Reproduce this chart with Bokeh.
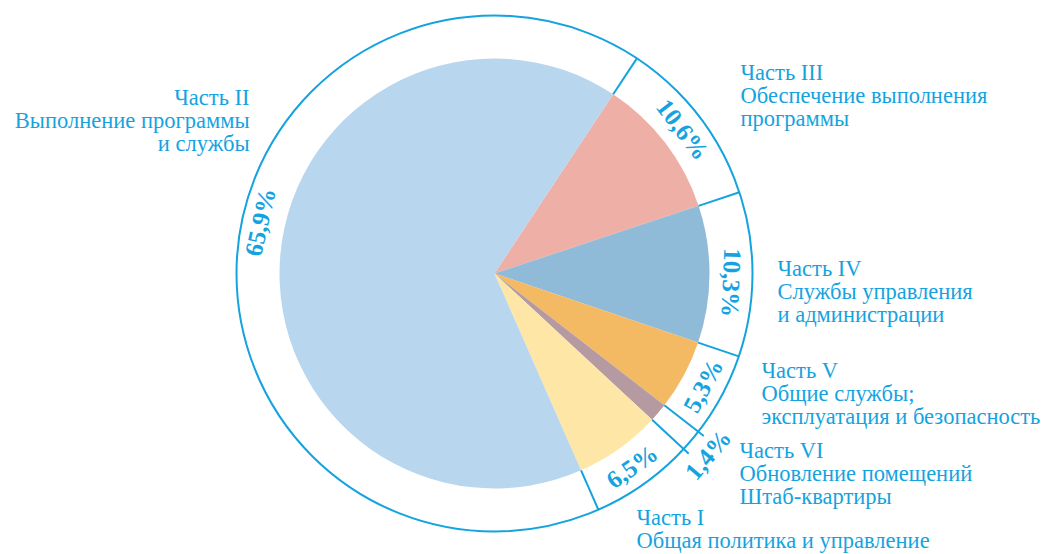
import math
from bokeh.plotting import figure
from bokeh.models import Range1d, ColumnDataSource
from bokeh.core.properties import value
from bokeh.embed import file_html
from bokeh.resources import INLINE

# ---- data (clockwise from the top-right boundary) ----
parts = ["Часть III", "Часть IV", "Часть V", "Часть VI", "Часть I", "Часть II"]
shares = [10.6, 10.3, 5.3, 1.4, 6.5, 65.9]
pct_labels = ["10,6%", "10,3%", "5,3%", "1,4%", "6,5%", "65,9%"]
descriptions = [
    ["Обеспечение выполнения", "программы"],
    ["Службы управления", "и администрации"],
    ["Общие службы;", "эксплуатация и безопасность"],
    ["Обновление помещений", "Штаб-квартиры"],
    ["Общая политика и управление"],
    ["Выполнение программы", "и службы"],
]
colors = ["#EDAFA6", "#8FBAD8", "#F4B963", "#B59BA1", "#FEE6A6", "#B9D6EF"]

BLUE = "#14A3DF"
W, H = 1048, 554
cx, cy = 494, H - 273
R_PIE, R_RING = 215, 258
START = 56.5  # degrees, top boundary of first slice

p = figure(width=W, height=H, output_backend="svg", toolbar_location=None,
           x_range=Range1d(0, W), y_range=Range1d(0, H),
           min_border=0, border_fill_color="white")
p.axis.visible = False
p.grid.visible = False
p.outline_line_color = None

# angles
his, los, mids = [], [], []
a = START
for s in shares:
    hi = a
    lo = a - s * 3.6
    his.append(math.radians(hi))
    los.append(math.radians(lo))
    mids.append((hi + lo) / 2)
    a = lo

src = ColumnDataSource(dict(lo=los, hi=his, color=colors))
p.wedge(x=cx, y=cy, radius=R_PIE, start_angle="lo", end_angle="hi",
        fill_color="color", line_color=None, source=src)

# outer ring
p.circle(x=[cx], y=[cy], radius=R_RING, fill_color=None, line_color=BLUE, line_width=2)

# dividers
bounds = [START] + [math.degrees(v) for v in los[:-1]]
x0s, y0s, x1s, y1s = [], [], [], []
for i, b in enumerate(bounds):
    r_out = R_RING + (7 if i in (3, 4) else 0)
    t = math.radians(b)
    x0s.append(cx + R_PIE * math.cos(t)); y0s.append(cy + R_PIE * math.sin(t))
    x1s.append(cx + r_out * math.cos(t)); y1s.append(cy + r_out * math.sin(t))
p.segment(x0=x0s, y0=y0s, x1=x1s, y1=y1s, line_color=BLUE, line_width=2)

# percentage labels
lx, ly, rot = [], [], []
for i, m in enumerate(mids):
    ang = m
    r = 237
    if parts[i] == "Часть II":
        ang = m - 7.5
        r = 240
    if parts[i] == "Часть IV":
        ang = m - 2
    if parts[i] == "Часть VI":
        r = 280
    t = math.radians(ang)
    lx.append(cx + r * math.cos(t)); ly.append(cy + r * math.sin(t))
    if -90 < ang < -10:
        rot.append(math.radians(ang + 90))
    else:
        rot.append(math.radians(ang - 90))
p.text(x=lx, y=ly, text=pct_labels, angle=rot, text_align="center",
       text_baseline="middle", text_color=BLUE,
       text_font=value("Liberation Serif"), text_font_size=value("25px"),
       text_font_style="bold")

# category labels
label_pos = {
    "Часть III": (740, 72, "left"),
    "Часть IV": (777, 268, "left"),
    "Часть V": (761, 370, "left"),
    "Часть VI": (739, 450, "left"),
    "Часть I": (636, 517, "left"),
    "Часть II": (249, 97, "right"),
}
for i, name in enumerate(parts):
    x, y, al = label_pos[name]
    lines = [name] + descriptions[i]
    ys = [H - (y + 23 * k) for k in range(len(lines))]
    p.text(x=[x] * len(lines), y=ys, text=lines, text_align=al,
           text_baseline="middle", text_color=BLUE,
           text_font=value("Liberation Serif"), text_font_size=value("22.5px"))

open("out.html", "w").write(file_html(p, INLINE))
